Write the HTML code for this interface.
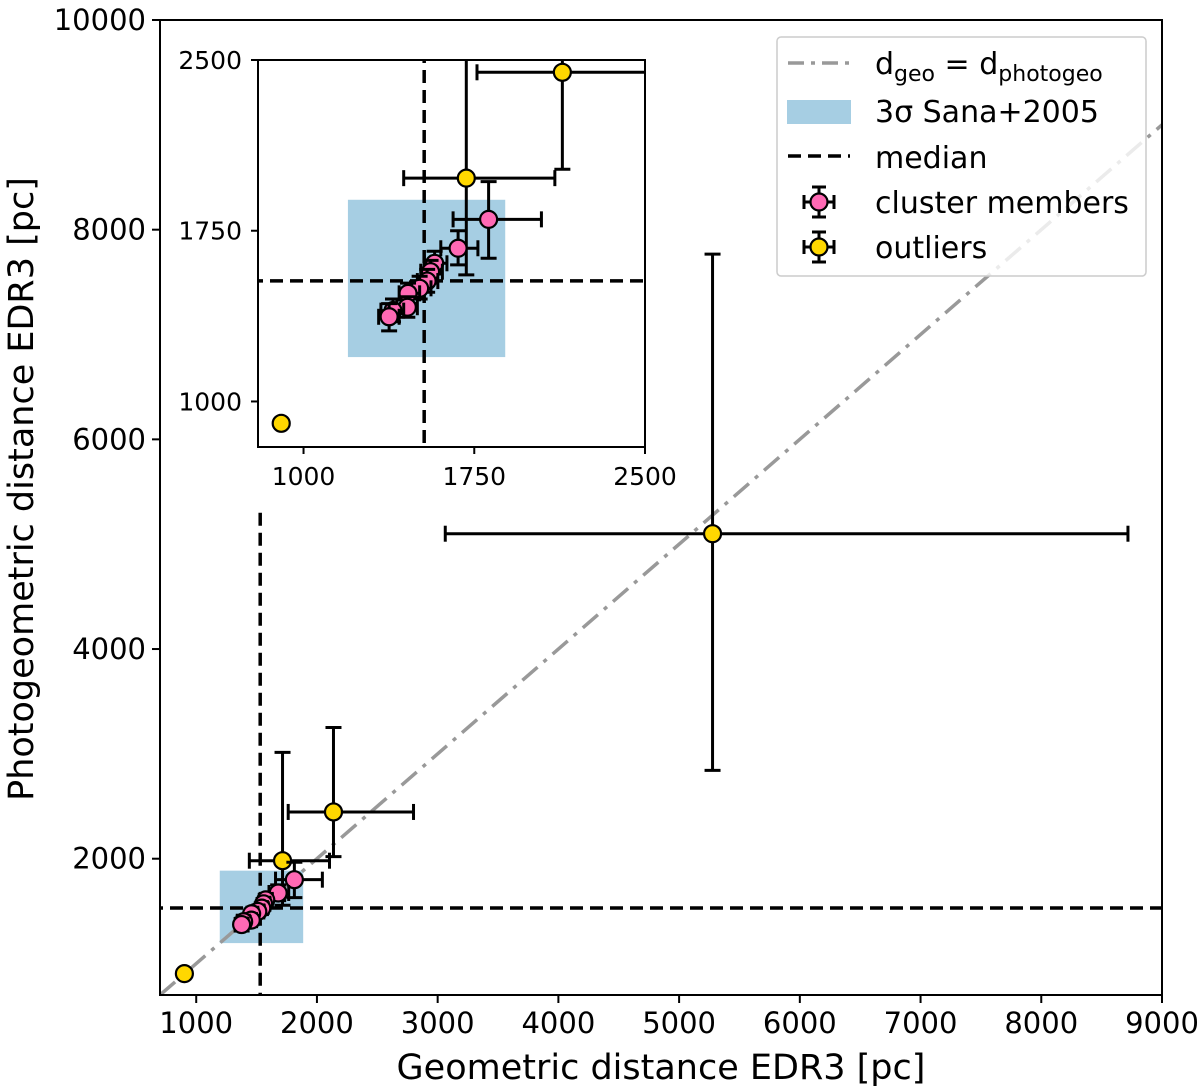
<!DOCTYPE html>
<html><head><meta charset="utf-8"><style>
html,body{margin:0;padding:0;background:#fff;overflow:hidden;width:1200px;height:1089px}
svg{display:block;font-family:"DejaVu Sans","Liberation Sans",sans-serif}
</style></head><body>
<svg id="chart" width="1200" height="1089" viewBox="0 0 1200 1089"></svg>
<script>
// data
const memberX = [1813,1679,1576,1558,1543,1510,1459,1456,1393,1376];
const memberY = [1800,1673,1607,1570,1529,1497,1475,1414,1399,1372];
const memberXLo = [1657,1603,1530,1515,1500,1470,1420,1410,1340,1330];
const memberXHi = [2045,1766,1630,1610,1590,1560,1510,1500,1440,1420];
const memberYLo = [1629,1600,1560,1520,1480,1450,1430,1370,1350,1310];
const memberYHi = [1966,1750,1660,1620,1580,1550,1520,1460,1450,1430];
const outX = [5277,2137,1715,902];
const outY = [5100,2446,1981,904];
const outXLo = [3063,1762,1440,902];
const outXHi = [8718,2800,2104,902];
const outYLo = [2843,2020,1556,904];
const outYHi = [7767,3252,3014,904];
const medianX = 1530, medianY = 1530;
const boxLo = 1195, boxHi = 1886;
const xTicks = [1000,2000,3000,4000,5000,6000,7000,8000,9000];
const yTicks = [2000,4000,6000,8000,10000];
const insetTicks = [1000,1750,2500];

const NS="http://www.w3.org/2000/svg";
const svg=document.getElementById('chart');
function el(tag,attrs,parent){const e=document.createElementNS(NS,tag);for(const k in attrs)e.setAttribute(k,attrs[k]);(parent||svg).appendChild(e);return e;}

const M={l:160,r:1162,t:20,b:995,x0:700,x1:9000,y0:700,y1:10000};
const sx=v=>M.l+(v-M.x0)/(M.x1-M.x0)*(M.r-M.l);
const sy=v=>M.b-(v-M.y0)/(M.y1-M.y0)*(M.b-M.t);
const I={l:258,r:645,t:60,b:447,v0:800,v1:2500};
const ix=v=>I.l+(v-I.v0)/(I.v1-I.v0)*(I.r-I.l);
const iy=v=>I.b-(v-I.v0)/(I.v1-I.v0)*(I.b-I.t);
const LW=3;

function drawPanel(g,fx,fy,clipId,diag){
  const box=el('rect',{x:fx(boxLo),y:fy(boxHi),width:fx(boxHi)-fx(boxLo),height:fy(boxLo)-fy(boxHi),fill:'#a6cee3','clip-path':`url(#${clipId})`},g);
  
  
  if(diag){
    const d=el('line',{x1:fx(700),y1:fy(700),x2:fx(9000),y2:fy(9000),stroke:'#999','stroke-width':3.5,'stroke-dasharray':'20 8 4 8','clip-path':`url(#${clipId})`},g);
    
    
  }
  const hm=el('line',{x1:-10,y1:fy(medianY),x2:2000,y2:fy(medianY),stroke:'#000','stroke-width':3.5,'stroke-dasharray':'13 7','clip-path':`url(#${clipId})`},g);
  
  
  const vm=el('line',{x1:fx(medianX),y1:diag?fy(5300):-10,x2:fx(medianX),y2:2000,stroke:'#000','stroke-width':3.5,'stroke-dasharray':'13 7','clip-path':`url(#${clipId})`},g);
  
  
  function points(X,Y,XL,XH,YL,YH,color,name){
    for(let i=0;i<X.length;i++){
      const pg=el('g',{'clip-path':`url(#${clipId})`},g);
      
      
      const x=fx(X[i]),y=fy(Y[i]);
      const c=8;
      if(XH[i]>XL[i]){
        el('line',{x1:fx(XL[i]),y1:y,x2:fx(XH[i]),y2:y,stroke:'#000','stroke-width':LW},pg);
        el('line',{x1:fx(XL[i]),y1:y-c,x2:fx(XL[i]),y2:y+c,stroke:'#000','stroke-width':LW},pg);
        el('line',{x1:fx(XH[i]),y1:y-c,x2:fx(XH[i]),y2:y+c,stroke:'#000','stroke-width':LW},pg);
      }
      if(YH[i]>YL[i]){
        el('line',{x1:x,y1:fy(YL[i]),x2:x,y2:fy(YH[i]),stroke:'#000','stroke-width':LW},pg);
        el('line',{x1:x-c,y1:fy(YL[i]),x2:x+c,y2:fy(YL[i]),stroke:'#000','stroke-width':LW},pg);
        el('line',{x1:x-c,y1:fy(YH[i]),x2:x+c,y2:fy(YH[i]),stroke:'#000','stroke-width':LW},pg);
      }
      el('circle',{cx:x,cy:y,r:8.5,fill:color,stroke:'#000','stroke-width':2.2},pg);
    }
  }
  points(outX,outY,outXLo,outXHi,outYLo,outYHi,'#ffd700','outlier-point');
  points(memberX,memberY,memberXLo,memberXHi,memberYLo,memberYHi,'#ff69b4','cluster-member-point');
}

const defs=el('defs',{});
const c1=el('clipPath',{id:'mainclip'},defs);el('rect',{x:M.l,y:M.t,width:M.r-M.l,height:M.b-M.t},c1);
const c2=el('clipPath',{id:'insetclip'},defs);el('rect',{x:I.l,y:I.t,width:I.r-I.l,height:I.b-I.t},c2);

const mainG=el('g',{});


drawPanel(mainG,sx,sy,'mainclip',true);
const frame=el('rect',{x:M.l,y:M.t,width:M.r-M.l,height:M.b-M.t,fill:'none',stroke:'#000','stroke-width':2});



xTicks.forEach(v=>{
  el('line',{x1:sx(v),y1:M.b,x2:sx(v),y2:M.b+8,stroke:'#000','stroke-width':2});
  const t=el('text',{x:sx(v),y:M.b+38,'font-size':29,'text-anchor':'middle'});t.textContent=v;
  
  
});
yTicks.forEach(v=>{
  el('line',{x1:M.l-8,y1:sy(v),x2:M.l,y2:sy(v),stroke:'#000','stroke-width':2});
  const t=el('text',{x:M.l-14,y:sy(v)+10,'font-size':29,'text-anchor':'end'});t.textContent=v;
  
  
});
const xl=el('text',{x:661,y:1079,'font-size':35,'text-anchor':'middle'});xl.textContent='Geometric distance EDR3 [pc]';


const yl=el('text',{x:0,y:0,'font-size':35,'text-anchor':'middle',transform:'translate(33,489) rotate(-90)'});yl.textContent='Photogeometric distance EDR3 [pc]';



const insetG=el('g',{});


el('rect',{x:I.l,y:I.t,width:I.r-I.l,height:I.b-I.t,fill:'#fff'},insetG);
drawPanel(insetG,ix,iy,'insetclip',false);
el('rect',{x:I.l,y:I.t,width:I.r-I.l,height:I.b-I.t,fill:'none',stroke:'#000','stroke-width':2},insetG);
insetTicks.forEach(v=>{
  el('line',{x1:ix(v),y1:I.b,x2:ix(v),y2:I.b+7,stroke:'#000','stroke-width':2},insetG);
  const t=el('text',{x:ix(v),y:I.b+38,'font-size':25,'text-anchor':'middle'},insetG);t.textContent=v;
  
  
  el('line',{x1:I.l-7,y1:iy(v),x2:I.l,y2:iy(v),stroke:'#000','stroke-width':2},insetG);
  const u=el('text',{x:I.l-16,y:iy(v)+9,'font-size':25,'text-anchor':'end'},insetG);u.textContent=v;
  
  
});

const lg=el('g',{});


el('rect',{x:777,y:37,width:369,height:239,rx:4,fill:'rgba(255,255,255,0.8)',stroke:'#ccc','stroke-width':1.5},lg);
el('line',{x1:788,y1:63,x2:850,y2:63,stroke:'#999','stroke-width':3.5,'stroke-dasharray':'16 7 4 7'},lg);
el('rect',{x:787,y:100,width:64,height:24,fill:'#a6cee3'},lg);
el('line',{x1:788,y1:156,x2:850,y2:156,stroke:'#000','stroke-width':3.5,'stroke-dasharray':'13 7'},lg);
[[202,'#ff69b4'],[247,'#ffd700']].forEach(([y,c])=>{
  el('line',{x1:804,y1:y,x2:834,y2:y,stroke:'#000','stroke-width':LW},lg);
  el('line',{x1:819,y1:y-15,x2:819,y2:y+15,stroke:'#000','stroke-width':LW},lg);
  el('line',{x1:804,y1:y-7,x2:804,y2:y+7,stroke:'#000','stroke-width':LW},lg);
  el('line',{x1:834,y1:y-7,x2:834,y2:y+7,stroke:'#000','stroke-width':LW},lg);
  el('line',{x1:812,y1:y-15,x2:826,y2:y-15,stroke:'#000','stroke-width':LW},lg);
  el('line',{x1:812,y1:y+15,x2:826,y2:y+15,stroke:'#000','stroke-width':LW},lg);
  el('circle',{cx:819,cy:y,r:8.5,fill:c,stroke:'#000','stroke-width':2.2},lg);
});
const t1=el('text',{x:875,y:74,'font-size':30},lg);
t1.innerHTML='d<tspan font-size="22" dy="7">geo</tspan><tspan dy="-7"> = d</tspan><tspan font-size="22" dy="7">photogeo</tspan>';
const labels=[[122,'3σ Sana+2005'],[168,'median'],[213,'cluster members'],[258,'outliers']];
labels.forEach(([y,s])=>{const t=el('text',{x:875,y:y,'font-size':30},lg);t.textContent=s;
  
  });
</script>
</body></html>
